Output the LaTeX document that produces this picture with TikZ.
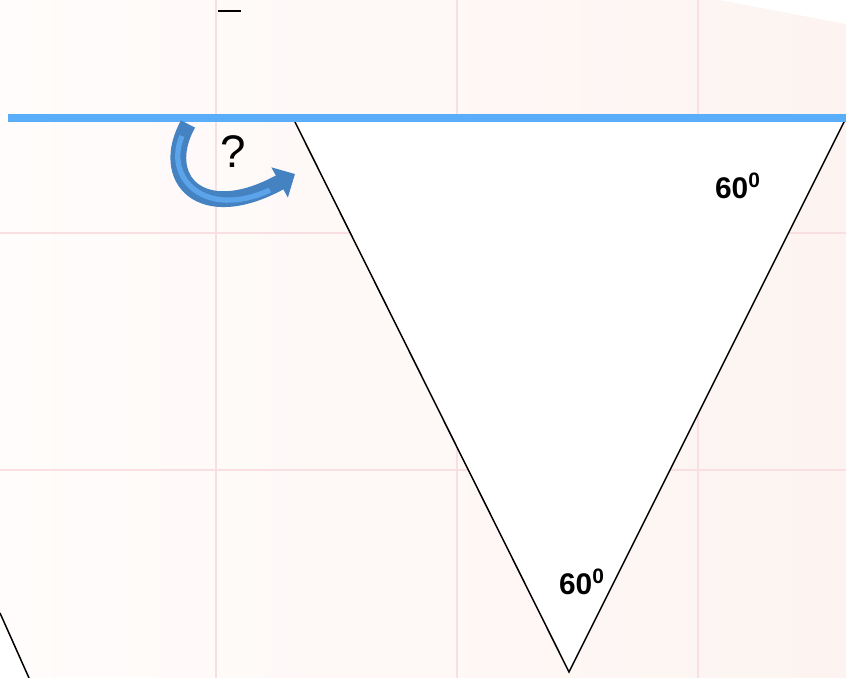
\documentclass[tikz,border=0pt]{standalone}
\usepackage{fontspec}
\setmainfont{Liberation Sans}
\usetikzlibrary{arrows.meta}

\definecolor{bgone}{HTML}{FFFCFB}
\definecolor{bgtwo}{HTML}{FDF4F1}
\definecolor{gridpink}{HTML}{F9DFE1}
\definecolor{mirror}{HTML}{5AADF8}
\definecolor{turndark}{HTML}{4482C2}
\definecolor{turnlight}{HTML}{5CA4EA}

\begin{document}
\begin{tikzpicture}[x=0.02cm, y=-0.02cm]
		\tikzstyle{grid} = [draw=gridpink, line width=1.2pt]
		\tikzstyle{edge} = [draw, line width=0.85pt]
		\tikzstyle{angle} = [font=\fontsize{17}{20}\selectfont\bfseries, inner sep=0pt]
		
		\useasboundingbox (0,0) rectangle (846,678);
		% background and faint grid
		\shade[shading=axis, shading angle=135, left color=bgone, right color=bgtwo] (0,0) rectangle (846,678);
		\fill[white] (720,0) -- (846,0) -- (846,24) -- cycle;
		\foreach \gx in {216,457,698} \draw[grid] (\gx,0) -- (\gx,678);
		\foreach \gy in {233,470} \draw[grid] (0,\gy) -- (846,\gy);
		
		% triangle
		\coordinate (tl) at (293,118);
		\coordinate (tr) at (846,118);
		\coordinate (tb) at (569,672);
		\path[edge, fill=white] (tl) -- (tb) -- (tr);
		
		% second triangle, cut off at the corner
		\coordinate (lt) at (0,613);
		\coordinate (lb) at (29,678);
		\fill[white] (lt) -- (lb) -- (0,678) -- cycle;
		\draw[edge] (lt) -- (lb);
		
		% mirror line
		\coordinate (ml) at (8,118);
		\coordinate (mr) at (846,118);
		\draw[mirror, line width=4.5pt] (ml) -- (mr);
		
		% small mark at the top
		\coordinate (da) at (218,11);
		\coordinate (db) at (241,11);
		\draw[line width=1.2pt] (da) -- (db);
		
		% turning arrow
		\coordinate (ts) at (188,124);
		\coordinate (te) at (295,174);
		\draw[turndark, line width=9pt, -{Triangle[length=10pt, width=19pt]}] (ts) .. controls (158,178) and (200,226) .. (te);
		\draw[turnlight, line width=3pt] (182,136) .. controls (164,178) and (205,220) .. (270,190);
		
		\node[font=\fontsize{26}{30}\selectfont] (ask) at (233,152) {?};
		\node[angle] (atop) at (738,186) {60\textsuperscript{0}};
		\node[angle] (abot) at (582,582) {60\textsuperscript{0}};
	\end{tikzpicture}
\end{document}
